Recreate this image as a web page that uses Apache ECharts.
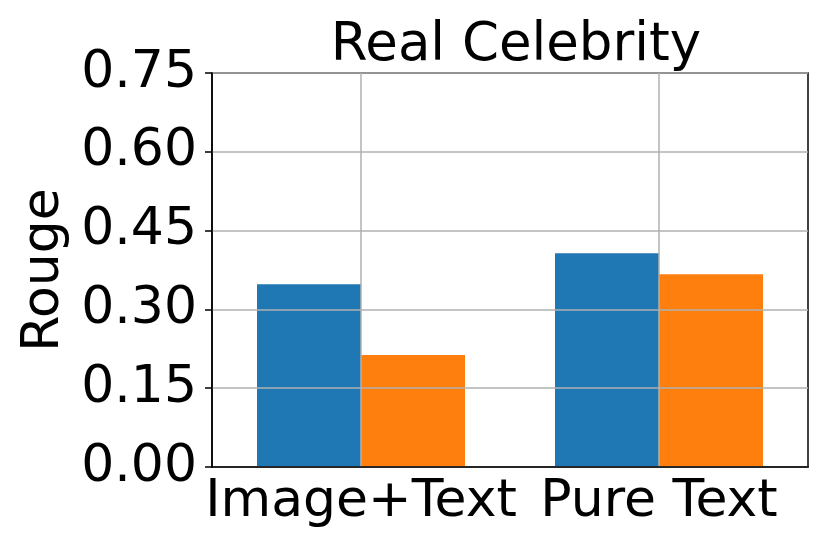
<!DOCTYPE html>
<html>
<head>
<meta charset="utf-8">
<script src="https://cdn.jsdelivr.net/npm/echarts@6/dist/echarts.min.js"></script>
<style>
  html, body { margin: 0; padding: 0; background: #fff; }
  #chart { width: 830px; height: 554px; }
</style>
</head>
<body>
<div id="chart"></div>
<script>
const categories = ['Image+Text', 'Pure Text']
const seriesA = [0.348, 0.407]
const seriesB = [0.213, 0.367]
const yMin = 0
const yMax = 0.75
const yStep = 0.15

const FONT = 'DejaVu Sans'
const chart = echarts.init(document.getElementById('chart'))

chart.setOption({
  animation: false,
  title: {
    text: 'Real Celebrity',
    left: 511,
    top: 15,
    textAlign: 'center',
    textStyle: { fontFamily: FONT, fontSize: 53, fontWeight: 'normal', color: '#000' }
  },
  grid: {
    left: 212,
    right: 22,
    top: 73,
    bottom: 87,
    show: true,
    borderColor: '#000',
    borderWidth: 1.5,
    backgroundColor: '#fff'
  },
  xAxis: {
    type: 'category',
    data: categories,
    z: 10,
    axisLine: { lineStyle: { color: '#000', width: 1.5 } },
    axisTick: { alignWithLabel: true, length: 7, lineStyle: { color: '#000', width: 1.5 } },
    axisLabel: { fontFamily: FONT, fontSize: 52, color: '#000', margin: 9, interval: 0 },
    splitLine: { show: true, alignWithLabel: true, lineStyle: { color: '#b0b0b0', width: 1.5 } }
  },
  yAxis: {
    type: 'value',
    min: yMin,
    max: yMax,
    interval: yStep,
    z: 10,
    name: 'Rouge',
    nameLocation: 'middle',
    nameRotate: 90,
    nameGap: 139,
    nameTextStyle: { fontFamily: FONT, fontSize: 52, color: '#000' },
    axisLine: { show: true, lineStyle: { color: '#000', width: 1.5 } },
    axisTick: { show: true, length: 7, lineStyle: { color: '#000', width: 1.5 } },
    axisLabel: {
      fontFamily: FONT, fontSize: 52, color: '#000', margin: 15,
      formatter: v => v.toFixed(2)
    },
    splitLine: { show: true, lineStyle: { color: '#b0b0b0', width: 1.5 } }
  },
  series: [
    {
      name: 'Series 1',
      type: 'bar',
      data: seriesA,
      barWidth: 104,
      barGap: '0%',
      itemStyle: { color: '#1f77b4' }
    },
    {
      name: 'Series 2',
      type: 'bar',
      data: seriesB,
      barWidth: 104,
      barGap: '0%',
      itemStyle: { color: '#ff7f0e' }
    }
  ]
})
</script>
</body>
</html>
